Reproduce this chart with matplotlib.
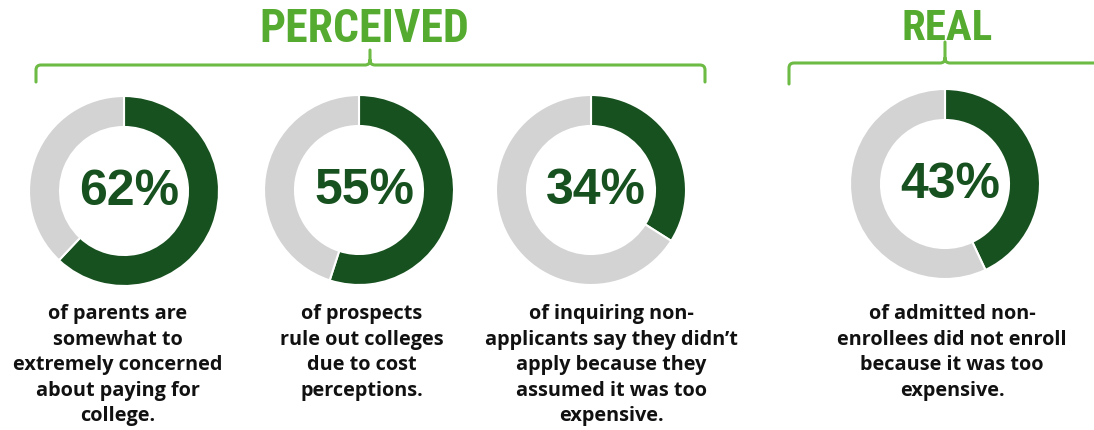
import matplotlib
matplotlib.use("Agg")
import matplotlib.pyplot as plt
from matplotlib.patches import Wedge, PathPatch
from matplotlib.path import Path
from matplotlib import font_manager

# ---- data ----
values = [62, 55, 34, 43]
pct_labels = ["62%", "55%", "34%", "43%"]
captions = [
    "of parents are\nsomewhat to\nextremely concerned\nabout paying for\ncollege.",
    "of prospects\nrule out colleges\ndue to cost\nperceptions.",
    "of inquiring non-\napplicants say they didn\u2019t\napply because they\nassumed it was too\nexpensive.",
    "of admitted non-\nenrollees did not enroll\nbecause it was too\nexpensive.",
]
group_titles = ["PERCEIVED", "REAL"]

# ---- layout / style ----
W, H = 1094, 430
centers = [(124, 191), (359, 190), (591, 190), (945, 184)]
caption_x = [118, 362, 611, 952]
caption_y = 304
R_OUT, RING = 95, 31
DARK = "#17511f"
GREY = "#d3d3d3"
TITLE_GREEN = "#55ab30"
BRACE_GREEN = "#6dbb45"

names = {f.name for f in font_manager.fontManager.ttflist}
narrow = None
for cand in ["Liberation Sans Narrow", "DejaVu Sans Condensed", "Roboto Condensed",
             "Open Sans Condensed"]:
    if cand in names:
        narrow = cand
        break

fig = plt.figure(figsize=(W / 100, H / 100), dpi=100)
ax = fig.add_axes([0, 0, 1, 1])
ax.set_xlim(0, W)
ax.set_ylim(H, 0)
ax.axis("off")

for (cx, cy), v, lab, cap, tx in zip(centers, values, pct_labels, captions, caption_x):
    a0 = -90
    a1 = -90 + 360 * v / 100
    ax.add_patch(Wedge((cx, cy), R_OUT, a0, a1, width=RING, facecolor=DARK,
                       edgecolor="white", linewidth=1.5))
    ax.add_patch(Wedge((cx, cy), R_OUT, a1, 270, width=RING, facecolor=GREY,
                       edgecolor="white", linewidth=1.5))
    ax.text(cx + 5, cy + 1, lab, ha="center", va="center", fontsize=36,
            fontweight="bold", color=DARK, family="Liberation Sans")
    ax.text(tx, caption_y, cap, ha="center", va="top", fontsize=14.3,
            fontweight="bold", color="#111111", family="Open Sans",
            linespacing=1.37)


def brace(x0, x1, xm, yh, yend, ytop, r=5):
    verts = [
        (x0, yend), (x0, yh + r), (x0, yh), (x0 + r, yh),
        (xm - r, yh), (xm, yh), (xm, yh - r), (xm, ytop),
        (xm, yh - r), (xm, yh), (xm + r, yh),
        (x1 - r, yh), (x1, yh), (x1, yh + r), (x1, yend),
    ]
    codes = [Path.MOVETO, Path.LINETO, Path.CURVE3, Path.CURVE3,
             Path.LINETO, Path.CURVE3, Path.CURVE3, Path.LINETO,
             Path.MOVETO, Path.CURVE3, Path.CURVE3,
             Path.LINETO, Path.CURVE3, Path.CURVE3, Path.LINETO]
    ax.add_patch(PathPatch(Path(verts, codes), facecolor="none",
                           edgecolor=BRACE_GREEN, linewidth=2.2,
                           capstyle="round", joinstyle="round"))


brace(36, 705, 370, 65, 82, 50)
brace(789, 1120, 945, 63, 84, 42)

tfam = [narrow, "Liberation Sans"] if narrow else ["Liberation Sans"]
tsize = 33 if narrow else 27
ax.text(364, 29, group_titles[0], ha="center", va="center", fontsize=tsize,
        fontweight="bold", color=TITLE_GREEN, family=tfam)
ax.text(947, 29, group_titles[1], ha="center", va="center", fontsize=tsize - 2,
        fontweight="bold", color=TITLE_GREEN, family=tfam)

fig.savefig("out.png", dpi=100)
